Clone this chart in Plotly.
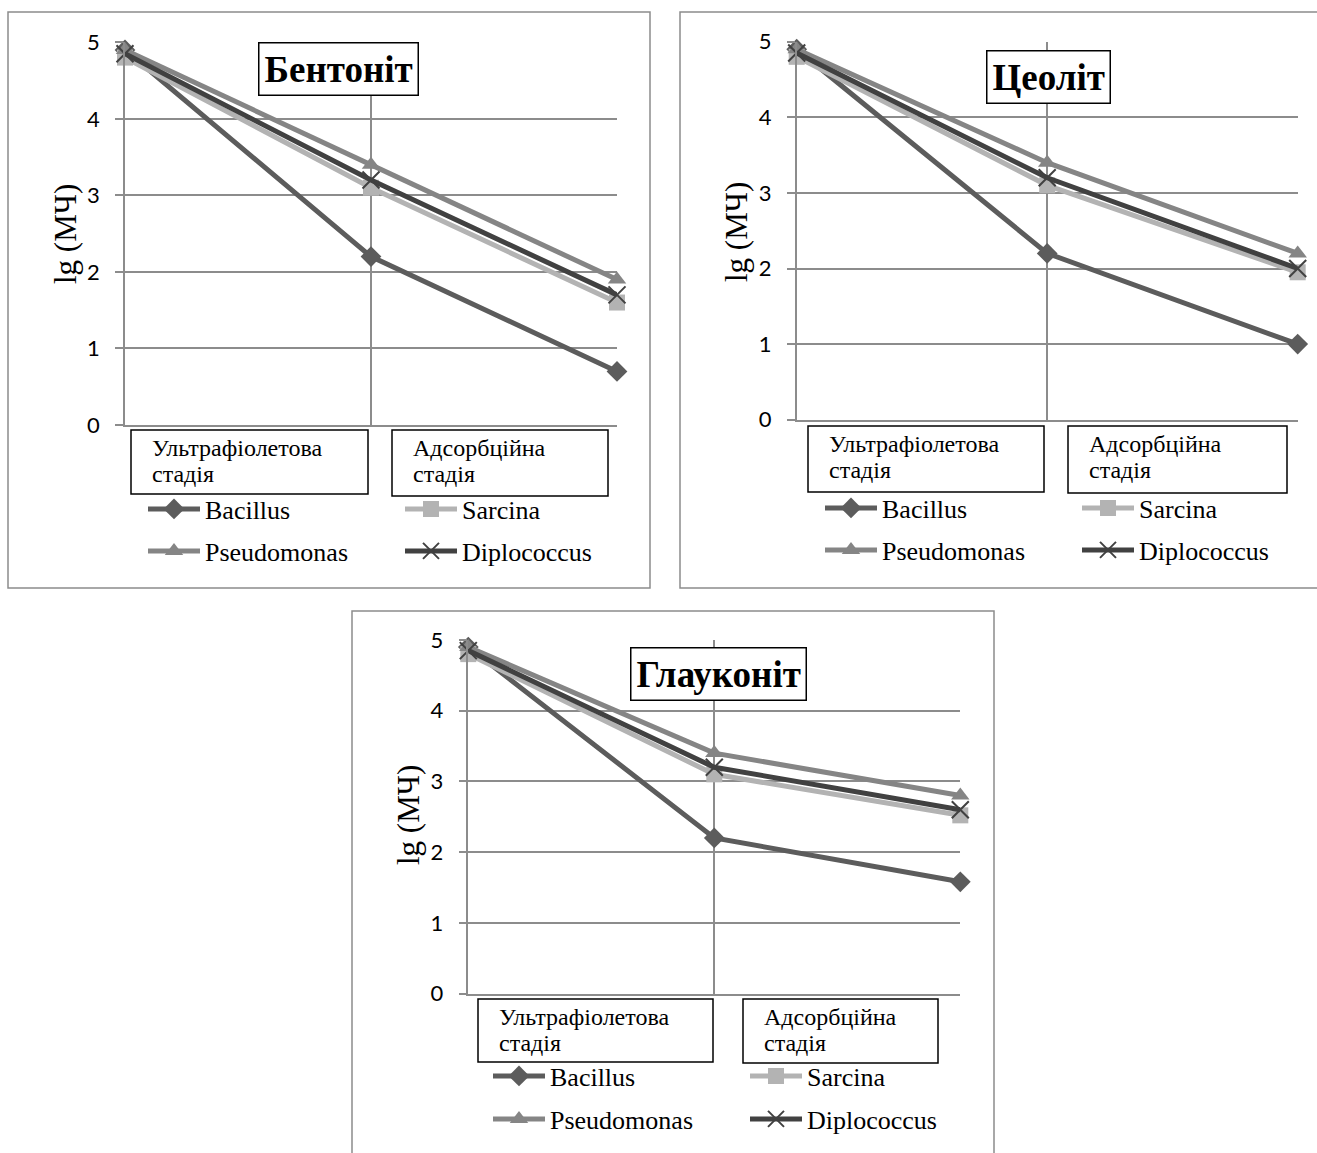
import plotly.graph_objects as go

# ---------------- data ----------------
STAGE_POS = [0, 1, 2]
STAGE_LABELS = [["Ультрафіолетова", "стадія"], ["Адсорбційна", "стадія"]]
SERIES = ["Bacillus", "Sarcina", "Pseudomonas", "Diplococcus"]
MINERALS = ["Бентоніт", "Цеоліт", "Глауконіт"]
Y_TITLE = "lg (МЧ)"
Y_TICKS = [0, 1, 2, 3, 4, 5]

bentonite_bacillus = [4.9, 2.2, 0.7]
bentonite_sarcina = [4.8, 3.1, 1.6]
bentonite_pseudomonas = [4.9, 3.4, 1.9]
bentonite_diplococcus = [4.85, 3.2, 1.7]

zeolite_bacillus = [4.9, 2.2, 1.0]
zeolite_sarcina = [4.8, 3.1, 1.95]
zeolite_pseudomonas = [4.9, 3.4, 2.2]
zeolite_diplococcus = [4.85, 3.2, 2.0]

glauconite_bacillus = [4.9, 2.2, 1.58]
glauconite_sarcina = [4.8, 3.1, 2.52]
glauconite_pseudomonas = [4.9, 3.4, 2.8]
glauconite_diplococcus = [4.85, 3.2, 2.6]

DATA = [
    [bentonite_bacillus, bentonite_sarcina, bentonite_pseudomonas, bentonite_diplococcus],
    [zeolite_bacillus, zeolite_sarcina, zeolite_pseudomonas, zeolite_diplococcus],
    [glauconite_bacillus, glauconite_sarcina, glauconite_pseudomonas, glauconite_diplococcus],
]

# ---------------- styles ----------------
W, H = 1317, 1153
COLORS = ["#5c5c5c", "#b3b3b3", "#858585", "#414141"]
SYMBOLS = ["diamond", "square", "triangle-up", "x-thin"]
GRID = "#8c8c8c"
SERIF = "Liberation Serif, Times New Roman, serif"
SANS = "Lato, Open Sans, sans-serif"
TEXT_SIZE = 26
BOX_SIZE = 24


def px(x):
    return x / W


def py(y):
    return 1 - y / H


# panel geometry in pixels
PANELS = [
    dict(x0=125, x1=617, ytop=42.3, ybot=425, frame=(8, 12, 650, 588),
         title=(338, 69), ytitle=(65, 234),
         boxes=[(131, 430, 368, 494), (392, 430, 608, 496)],
         leg_x=143, leg_y=(509, 551)),
    dict(x0=796.7, x1=1297.7, ytop=41.7, ybot=419.7, frame=(680, 12, 1330, 588),
         title=(1048, 77.5), ytitle=(736, 232),
         boxes=[(808, 426, 1044, 492), (1068, 426, 1287, 493)],
         leg_x=820, leg_y=(508, 550)),
    dict(x0=468.3, x1=960.3, ytop=640, ybot=993.5, frame=(352, 611, 994, 1170),
         title=(718.5, 673.5), ytitle=(408, 815),
         boxes=[(478, 999, 713, 1062), (743, 999, 938, 1063)],
         leg_x=488, leg_y=(1076, 1119)),
]

fig = go.Figure()
layout = dict(
    width=W, height=H,
    margin=dict(l=0, r=0, t=0, b=0, autoexpand=False),
    paper_bgcolor="white", plot_bgcolor="white",
    showlegend=True,
    annotations=[], shapes=[],
)

for i, (panel, mineral, series_vals) in enumerate(zip(PANELS, MINERALS, DATA)):
    sfx = "" if i == 0 else str(i + 1)
    xa, ya = "x" + sfx, "y" + sfx
    leg_a = "legend" if i == 0 else "legend" + str(2 * i + 1)
    leg_b = "legend" + str(2 * i + 2)

    for j, (name, vals) in enumerate(zip(SERIES, series_vals)):
        marker = dict(symbol=SYMBOLS[j], size=16, color=COLORS[j])
        if SYMBOLS[j] == "x-thin":
            marker = dict(symbol="x-thin", size=17, color=COLORS[j],
                          line=dict(width=2, color=COLORS[j]))
        fig.add_trace(go.Scatter(
            x=STAGE_POS, y=vals, name=name, mode="lines+markers",
            xaxis=xa, yaxis=ya,
            line=dict(color=COLORS[j], width=5),
            marker=marker, cliponaxis=False,
            legend=leg_a if j < 2 else leg_b,
        ))

    layout["xaxis" + sfx] = dict(
        domain=[px(panel["x0"]), px(panel["x1"])], anchor=ya,
        range=[0, 2], tickvals=STAGE_POS, showticklabels=False,
        showgrid=True, gridcolor=GRID, gridwidth=1.5,
        showline=True, linecolor=GRID, linewidth=1.5,
        zeroline=False, ticks="",
    )
    layout["yaxis" + sfx] = dict(
        domain=[py(panel["ybot"]), py(panel["ytop"])], anchor=xa,
        range=[0, 5], tickvals=Y_TICKS,
        showgrid=True, gridcolor=GRID, gridwidth=1.5,
        showline=True, linecolor=GRID, linewidth=1.5,
        zeroline=False, ticks="outside", ticklen=8, tickcolor=GRID, tickwidth=1.5,
        ticklabelstandoff=11,
        tickfont=dict(family=SANS, size=22, color="black"),
    )

    # legends: two rows of two entries
    for leg_name, ly in ((leg_a, panel["leg_y"][0]), (leg_b, panel["leg_y"][1])):
        layout[leg_name] = dict(
            orientation="h", xref="container", yref="container",
            x=px(panel["leg_x"]), xanchor="left",
            y=py(ly), yanchor="middle",
            entrywidth=190, entrywidthmode="pixels",
            font=dict(family=SERIF, size=TEXT_SIZE, color="black"),
            bgcolor="rgba(0,0,0,0)", borderwidth=0, itemwidth=52,
        )

    # frame
    fx0, fy0, fx1, fy1 = panel["frame"]
    layout["shapes"].append(dict(
        type="rect", xref="paper", yref="paper",
        x0=px(fx0), x1=px(fx1), y0=py(fy1), y1=py(fy0),
        line=dict(color=GRID, width=1.5), fillcolor="rgba(0,0,0,0)", layer="below",
    ))

    # mineral title
    tx, ty = panel["title"]
    layout["annotations"].append(dict(
        text="<b>" + mineral + "</b>", xref="paper", yref="paper",
        x=px(tx), y=py(ty), xanchor="center", yanchor="middle", showarrow=False,
        font=dict(family=SERIF, size=37, color="black"),
        bgcolor="white", bordercolor="black", borderwidth=1.5, borderpad=5,
    ))

    # y title
    yx, yy = panel["ytitle"]
    layout["annotations"].append(dict(
        text=Y_TITLE, xref="paper", yref="paper", x=px(yx), y=py(yy),
        xanchor="center", yanchor="middle", showarrow=False, textangle=-90,
        font=dict(family=SERIF, size=31, color="black"),
    ))

    # stage label boxes
    for (bx0, by0, bx1, by1), lines in zip(panel["boxes"], STAGE_LABELS):
        layout["shapes"].append(dict(
            type="rect", xref="paper", yref="paper",
            x0=px(bx0), x1=px(bx1), y0=py(by1), y1=py(by0),
            line=dict(color="black", width=1.5), fillcolor="white", layer="above",
        ))
        for k, ln in enumerate(lines):
            layout["annotations"].append(dict(
                text=ln, xref="paper", yref="paper",
                x=px(bx0 + 19), y=py(by0 + 18 + 26 * k),
                xanchor="left", yanchor="middle", showarrow=False,
                font=dict(family=SERIF, size=BOX_SIZE, color="black"),
            ))

fig.update_layout(**layout)
fig.write_html("out.html")
